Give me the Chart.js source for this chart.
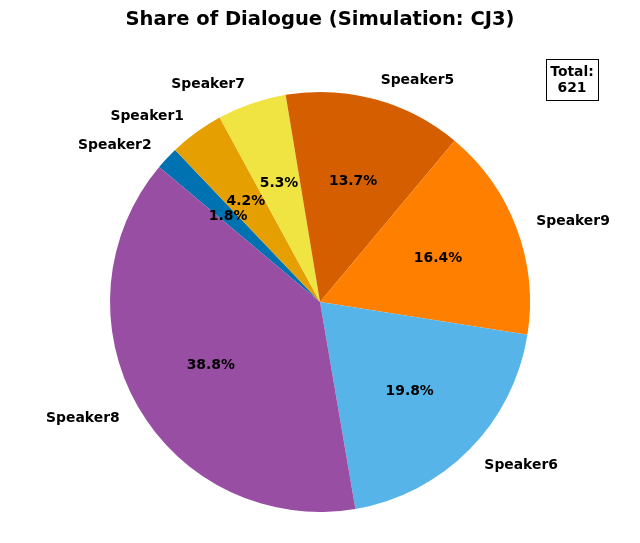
<!DOCTYPE html>
<html>
<head>
<meta charset="utf-8">
<script src="https://cdn.jsdelivr.net/npm/chart.js@4/dist/chart.umd.min.js"></script>
<style>
  html, body { margin: 0; padding: 0; background: #fff; }
  #wrap { width: 640px; height: 543px; }
</style>
</head>
<body>
<div id="wrap"><canvas id="pie" width="640" height="543"></canvas></div>
<script>
// slices in clockwise order, starting at the Speaker2/Speaker8 boundary
const speakers = ['Speaker2', 'Speaker1', 'Speaker7', 'Speaker5', 'Speaker9', 'Speaker6', 'Speaker8'];
const lineCounts = [11, 26, 33, 85, 102, 123, 241];
const sliceColors = ['#0072B2', '#E69F00', '#F0E442', '#D55E00', '#FF7F00', '#56B4E9', '#984EA3'];
const totalLines = lineCounts.reduce((a, b) => a + b, 0);

const FONT = "'DejaVu Sans', sans-serif";

// matplotlib-style labels: names outside at 1.1r, percentages inside at 0.6r
const sliceLabels = {
  id: 'sliceLabels',
  afterDatasetsDraw(chart) {
    const ctx = chart.ctx;
    const arcs = chart.getDatasetMeta(0).data;
    ctx.save();
    ctx.fillStyle = '#000';
    ctx.font = 'bold 13.9px ' + FONT;
    ctx.textBaseline = 'middle';
    arcs.forEach((arc, i) => {
      const mid = (arc.startAngle + arc.endAngle) / 2;
      const r = arc.outerRadius;
      const c = Math.cos(mid), s = Math.sin(mid);
      ctx.textAlign = c >= 0 ? 'left' : 'right';
      ctx.fillText(speakers[i], arc.x + c * r * 1.1, arc.y + s * r * 1.1 + 1);
      ctx.textAlign = 'center';
      const pct = (lineCounts[i] / totalLines * 100).toFixed(1) + '%';
      ctx.fillText(pct, arc.x + c * r * 0.6, arc.y + s * r * 0.6 + 1);
    });

    // total box in the top-right corner
    const bx = 546, by = 59, bw = 52, bh = 41;
    ctx.fillStyle = '#fff';
    ctx.fillRect(bx, by, bw, bh);
    ctx.strokeStyle = '#000';
    ctx.lineWidth = 1;
    ctx.strokeRect(bx + 0.5, by + 0.5, bw, bh);
    ctx.fillStyle = '#000';
    ctx.textAlign = 'center';
    ctx.fillText('Total:', bx + bw / 2, by + 13);
    ctx.fillText(String(totalLines), bx + bw / 2, by + 29);
    ctx.restore();
  }
};

new Chart(document.getElementById('pie'), {
  type: 'pie',
  data: {
    labels: speakers,
    datasets: [{
      data: lineCounts,
      backgroundColor: sliceColors,
      borderWidth: 0,
      hoverOffset: 0,
    }]
  },
  options: {
    responsive: false,
    animation: false,
    rotation: -50,
    layout: { padding: { top: 0, bottom: 31, left: 0, right: 0 } },
    plugins: {
      legend: { display: false },
      tooltip: { enabled: false },
      title: {
        display: true,
        text: 'Share of Dialogue (Simulation: CJ3)',
        color: '#000',
        font: { family: FONT, size: 19.5, weight: 'bold' },
        padding: { top: 8, bottom: 60.6 }
      }
    }
  },
  plugins: [sliceLabels]
});
</script>
</body>
</html>
